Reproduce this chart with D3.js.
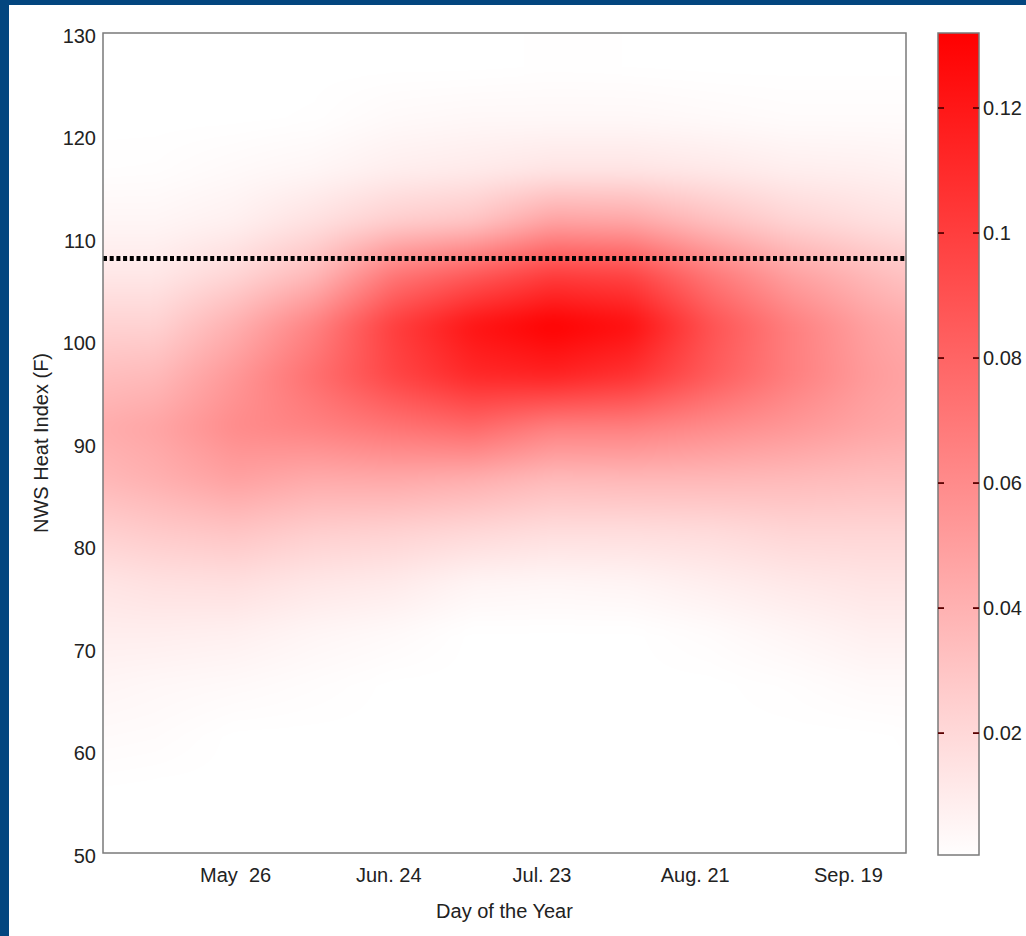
<!DOCTYPE html>
<html lang="en">
<head>
<meta charset="utf-8">
<title>NWS Heat Index density</title>
<script src="https://d3js.org/d3.v7.min.js"></script>
<style>
  body { margin: 0; background: #fff; }
  svg text { font-family: "Liberation Sans", Arial, sans-serif; }
</style>
</head>
<body>
<div id="chart"></div>
<script>

// grid columns: day of the year
var days = [121, 131, 146, 161, 176, 191, 206, 221, 236, 251, 266, 273];
// grid rows: NWS heat index (F)
var heat = [51.5, 56.5, 61.5, 66.5, 71.5, 76.5, 81.5, 86.5, 91.5, 96.5, 101.5, 106.5, 111.5, 116.5, 121.5, 126.5];

// density, one array per day, low -> high heat index
var d121 = [0, 0.0003, 0.0025, 0.005, 0.009, 0.014, 0.025, 0.037, 0.043, 0.034, 0.023, 0.012, 0.005, 0.0008, 0, 0];
var d131 = [0, 0, 0.002, 0.004, 0.009, 0.016, 0.028, 0.041, 0.047, 0.036, 0.023, 0.012, 0.005, 0.001, 0, 0];
var d146 = [0, 0, 0, 0.003, 0.008, 0.017, 0.031, 0.049, 0.060, 0.054, 0.041, 0.021, 0.008, 0.003, 0, 0];
var d161 = [0, 0, 0, 0.0015, 0.005, 0.013, 0.026, 0.044, 0.065, 0.075, 0.065, 0.036, 0.016, 0.005, 0.0005, 0];
var d176 = [0, 0, 0, 0, 0.003, 0.011, 0.024, 0.045, 0.072, 0.096, 0.100, 0.070, 0.026, 0.009, 0.003, 0];
var d191 = [0, 0, 0, 0, 0, 0.006, 0.021, 0.042, 0.078, 0.111, 0.122, 0.085, 0.031, 0.011, 0.004, 0];
var d206 = [0, 0, 0, 0, 0, 0.005, 0.018, 0.036, 0.066, 0.114, 0.132, 0.100, 0.049, 0.014, 0.004, 0.0005];
var d221 = [0, 0, 0, 0, 0, 0.006, 0.018, 0.037, 0.066, 0.106, 0.124, 0.096, 0.047, 0.014, 0.004, 0.0003];
var d236 = [0, 0, 0, 0, 0.002, 0.009, 0.019, 0.037, 0.060, 0.085, 0.090, 0.070, 0.034, 0.012, 0.003, 0];
var d251 = [0, 0, 0, 0.001, 0.005, 0.012, 0.022, 0.036, 0.054, 0.067, 0.067, 0.049, 0.023, 0.009, 0.002, 0];
var d266 = [0, 0, 0, 0.003, 0.008, 0.014, 0.022, 0.034, 0.047, 0.052, 0.049, 0.036, 0.017, 0.008, 0.002, 0];
var d273 = [0, 0, 0.0005, 0.003, 0.008, 0.014, 0.022, 0.034, 0.045, 0.048, 0.044, 0.031, 0.015, 0.007, 0.002, 0];

// axis ticks
var xTickDays = [146, 175, 204, 233, 262];
var xTickLabels = ["May  26", "Jun. 24", "Jul. 23", "Aug. 21", "Sep. 19"];
var yTicks = [50, 60, 70, 80, 90, 100, 110, 120, 130];
var cbTicks = [0.02, 0.04, 0.06, 0.08, 0.1, 0.12];
var threshold = 108;   // dotted line

var cols = [d121, d131, d146, d161, d176, d191, d206, d221, d236, d251, d266, d273];

var W = 1026, H = 936;
var plot = { left: 103, top: 33, right: 906, bottom: 853 };

var x = d3.scaleLinear().domain([121, 273]).range([plot.left, plot.right]);
var y = d3.scaleLinear().domain([50, 130]).range([plot.bottom, plot.top]);
var color = d3.scaleLinear().domain([0, 0.132]).range(["#ffffff", "#ff0000"]).clamp(true);

var svg = d3.select("#chart").append("svg")
  .attr("width", W)
  .attr("height", H);

// blue frame
svg.append("rect").attr("width", W).attr("height", H).attr("fill", "#03467f");
svg.append("rect").attr("x", 9).attr("y", 5).attr("width", W - 9).attr("height", H - 5).attr("fill", "#fff");

// --- heat map: bilinear lookup in the grid, drawn to a canvas
var colIdx = d3.scaleLinear().domain(days).range(d3.range(days.length)).clamp(true);
var rowIdx = d3.scaleLinear().domain(heat).range(d3.range(heat.length)).clamp(true);

function density(day, hi) {
  var fi = colIdx(day), fj = rowIdx(hi);
  var i0 = Math.floor(fi), j0 = Math.floor(fj);
  var i1 = Math.min(i0 + 1, days.length - 1), j1 = Math.min(j0 + 1, heat.length - 1);
  var tx = fi - i0, ty = fj - j0;
  var a = cols[i0][j0] * (1 - ty) + cols[i0][j1] * ty;
  var b = cols[i1][j0] * (1 - ty) + cols[i1][j1] * ty;
  return a * (1 - tx) + b * tx;
}

var lut = d3.range(1025).map(function (k) { return d3.rgb(color(k / 1024 * 0.132)); });

var pad = 30;
var pw = plot.right - plot.left + 2 * pad, ph = plot.bottom - plot.top + 2 * pad;
var c1 = document.createElement("canvas");
c1.width = pw; c1.height = ph;
var ctx1 = c1.getContext("2d");
var img = ctx1.createImageData(pw, ph);
for (var py = 0; py < ph; py++) {
  var hi = y.invert(plot.top - pad + py + 0.5);
  for (var px = 0; px < pw; px++) {
    var day = x.invert(plot.left - pad + px + 0.5);
    var v = density(day, hi);
    var c = lut[Math.max(0, Math.min(1024, Math.round(v / 0.132 * 1024)))];
    var o = (py * pw + px) * 4;
    img.data[o] = c.r; img.data[o + 1] = c.g; img.data[o + 2] = c.b; img.data[o + 3] = 255;
  }
}
ctx1.putImageData(img, 0, 0);

var c2 = document.createElement("canvas");
c2.width = pw; c2.height = ph;
var ctx2 = c2.getContext("2d");
ctx2.filter = "blur(8px)";
ctx2.drawImage(c1, 0, 0);

svg.append("clipPath").attr("id", "plotclip")
  .append("rect")
  .attr("x", plot.left).attr("y", plot.top)
  .attr("width", plot.right - plot.left).attr("height", plot.bottom - plot.top);

svg.append("image")
  .attr("clip-path", "url(#plotclip)")
  .attr("x", plot.left - pad).attr("y", plot.top - pad)
  .attr("width", pw).attr("height", ph)
  .attr("preserveAspectRatio", "none")
  .attr("href", c2.toDataURL());

// dotted threshold line
svg.append("line")
  .attr("x1", x(121)).attr("x2", x(273))
  .attr("y1", y(threshold)).attr("y2", y(threshold))
  .attr("stroke", "#000")
  .attr("stroke-width", 5)
  .attr("stroke-dasharray", "4,2.7");

// plot box
svg.append("rect")
  .attr("x", plot.left).attr("y", plot.top)
  .attr("width", plot.right - plot.left).attr("height", plot.bottom - plot.top)
  .attr("fill", "none").attr("stroke", "#7a7a7a").attr("stroke-width", 1.5);

// axes
var gy = svg.append("g")
  .attr("transform", "translate(" + plot.left + ",0)")
  .call(d3.axisLeft(y).tickValues(yTicks).tickSize(0).tickPadding(7));
gy.select(".domain").remove();
gy.attr("font-size", 20).attr("font-family", null);
gy.selectAll("text").attr("fill", "#222").attr("dy", "0.45em");

var gx = svg.append("g")
  .attr("transform", "translate(0," + plot.bottom + ")")
  .call(d3.axisBottom(x).tickValues(xTickDays).tickFormat(function (d, i) { return xTickLabels[i]; })
    .tickSize(0).tickPadding(15));
gx.select(".domain").remove();
gx.attr("font-size", 20).attr("font-family", null);
gx.selectAll("text").attr("fill", "#222").style("white-space", "pre");

svg.append("text")
  .attr("x", (plot.left + plot.right) / 2).attr("y", 918)
  .attr("text-anchor", "middle").attr("font-size", 20).attr("fill", "#222")
  .text("Day of the Year");

svg.append("text")
  .attr("transform", "translate(48," + (plot.top + plot.bottom) / 2 + ") rotate(-90)")
  .attr("text-anchor", "middle").attr("font-size", 20).attr("fill", "#222")
  .text("NWS Heat Index (F)");

// --- colour bar
var cbx0 = 938, cbx1 = 979;
var cb = d3.scaleLinear().domain([0.0005, 0.132]).range([855, 33]);

var grad = svg.append("defs").append("linearGradient")
  .attr("id", "cbgrad").attr("x1", 0).attr("y1", 1).attr("x2", 0).attr("y2", 0);
grad.append("stop").attr("offset", 0).attr("stop-color", color(cb.domain()[0]));
grad.append("stop").attr("offset", 1).attr("stop-color", color(cb.domain()[1]));

svg.append("rect")
  .attr("x", cbx0).attr("y", cb(0.132))
  .attr("width", cbx1 - cbx0).attr("height", cb(0.0005) - cb(0.132))
  .attr("fill", "url(#cbgrad)")
  .attr("stroke", "#7a7a7a").attr("stroke-width", 1.5);

var cbt = svg.append("g").selectAll("g").data(cbTicks).join("g");
cbt.append("line")
  .attr("x1", cbx0).attr("x2", cbx0 + 6)
  .attr("y1", function (d) { return cb(d); }).attr("y2", function (d) { return cb(d); })
  .attr("stroke", "#5a0000").attr("stroke-width", 1.8);
cbt.append("line")
  .attr("x1", cbx1 - 6).attr("x2", cbx1)
  .attr("y1", function (d) { return cb(d); }).attr("y2", function (d) { return cb(d); })
  .attr("stroke", "#5a0000").attr("stroke-width", 1.8);
cbt.append("text")
  .attr("x", cbx1 + 4).attr("y", function (d) { return cb(d); })
  .attr("dy", "0.36em")
  .attr("font-size", 20).attr("fill", "#222")
  .text(d3.format("~g"));

</script>
</body>
</html>
